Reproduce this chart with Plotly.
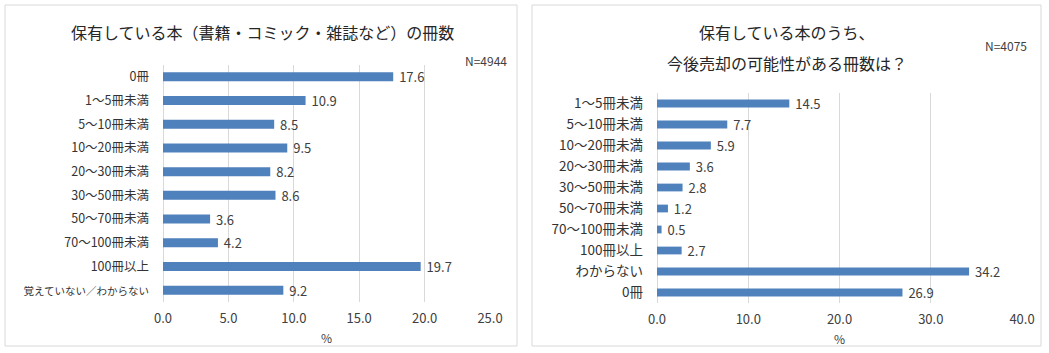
import plotly.graph_objects as go

W, H = 1049, 353

left_title = "保有している本（書籍・コミック・雑誌など）の冊数"
left_n = "N=4944"
left_cats = ["0冊", "1～5冊未満", "5～10冊未満", "10～20冊未満", "20～30冊未満",
             "30～50冊未満", "50～70冊未満", "70～100冊未満", "100冊以上", "覚えていない／わからない"]
left_vals = [17.6, 10.9, 8.5, 9.5, 8.2, 8.6, 3.6, 4.2, 19.7, 9.2]
left_ticks = [0, 5, 10, 15, 20, 25]

right_title_1 = "保有している本のうち、"
right_title_2 = "今後売却の可能性がある冊数は？"
right_n = "N=4075"
right_cats = ["1～5冊未満", "5～10冊未満", "10～20冊未満", "20～30冊未満", "30～50冊未満",
              "50～70冊未満", "70～100冊未満", "100冊以上", "わからない", "0冊"]
right_vals = [14.5, 7.7, 5.9, 3.6, 2.8, 1.2, 0.5, 2.7, 34.2, 26.9]
right_ticks = [0, 10, 20, 30, 40]

axis_label = "%"

FONT = "Noto Sans CJK JP"
TXT = "#404040"
TITLE = "#262626"
BAR = "#4F81BD"
GRID = "#D9D9D9"

def px_x(x):
    return x / W

def px_y(y):
    return 1 - y / H

# long label is drawn a little smaller so it stays inside its panel
left_ticktext = [c if len(c) < 10 else '<span style="font-size:10.5px">' + c + '</span>'
                 for c in left_cats]

fig = go.Figure()
fig.add_trace(go.Bar(
    x=left_vals, y=left_cats, orientation="h", marker_color=BAR, width=0.38,
    text=left_vals, texttemplate="\u00a0%{x:.1f}", textposition="outside", cliponaxis=False,
    constraintext="none",
    textfont=dict(size=13, color=TXT, family=FONT), xaxis="x", yaxis="y",
    hoverinfo="x+y"))
fig.add_trace(go.Bar(
    x=right_vals, y=right_cats, orientation="h", marker_color=BAR, width=0.37,
    text=right_vals, texttemplate="\u00a0%{x:.1f}", textposition="outside", cliponaxis=False,
    constraintext="none",
    textfont=dict(size=13, color=TXT, family=FONT), xaxis="x2", yaxis="y2",
    hoverinfo="x+y"))

xcommon = dict(showgrid=True, gridcolor=GRID, gridwidth=1, zeroline=True, zerolinecolor=GRID,
               zerolinewidth=1, showline=False, automargin=False,
               tickformat=".1f", tickfont=dict(size=13, color=TXT, family=FONT),
               ticks="", ticklabelstandoff=7, fixedrange=True)
ycommon = dict(showgrid=False, zeroline=False, showline=False, type="category",
               autorange="reversed",
               ticks="", ticklabelstandoff=13, fixedrange=True, automargin=False)

fig.update_layout(
    template="none",
    width=W, height=H, margin=dict(l=0, r=0, t=0, b=0, pad=0),
    paper_bgcolor="white", plot_bgcolor="white", showlegend=False,
    font=dict(family=FONT, color=TXT),
    xaxis=dict(domain=[px_x(163), px_x(490)], range=[0, 25], tickvals=left_ticks,
               anchor="y", **xcommon),
    yaxis=dict(domain=[px_y(302), px_y(65)], anchor="x",
               categoryarray=left_cats, tickvals=left_cats, ticktext=left_ticktext,
               tickfont=dict(size=12.5, color="#333333", family=FONT),
               **ycommon),
    xaxis2=dict(domain=[px_x(657), px_x(1022)], range=[0, 40], tickvals=right_ticks,
                anchor="y2", **xcommon),
    yaxis2=dict(domain=[px_y(303), px_y(93)], anchor="x2",
                categoryarray=right_cats, tickfont=dict(size=13.5, color="#333333", family=FONT),
                **ycommon),
)

shapes = []
for (x0, x1) in [(5, 517), (532, 1041)]:
    shapes.append(dict(type="rect", xref="paper", yref="paper",
                       x0=px_x(x0), x1=px_x(x1), y0=px_y(346), y1=px_y(5),
                       line=dict(color=GRID, width=1), fillcolor="rgba(0,0,0,0)"))
fig.update_layout(shapes=shapes)

def note(text, x, y, size, anchor="center", color=TXT):
    return dict(text=text, x=px_x(x), y=px_y(y), xref="paper", yref="paper",
                showarrow=False, font=dict(size=size, color=color, family=FONT),
                xanchor=anchor, yanchor="middle")

ann = [
    note(left_title, 262, 32, 16, color=TITLE),
    note(left_n, 509, 60, 12, "right"),
    note(right_title_1, 787, 32, 16, color=TITLE),
    note(right_title_2, 787, 63, 16, color=TITLE),
    note(right_n, 1029, 45, 12, "right"),
    note(axis_label, 326, 337, 12),
    note(axis_label, 839, 338, 12),
]
fig.update_layout(annotations=ann)

fig.write_html("out.html")
